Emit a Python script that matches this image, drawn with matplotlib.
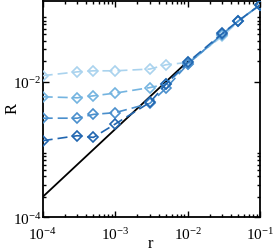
import matplotlib
matplotlib.use("Agg")
import matplotlib.pyplot as plt
from matplotlib.ticker import LogLocator, NullFormatter, FixedLocator
import numpy as np

plt.rcParams['font.family'] = ['Liberation Serif']
plt.rcParams['mathtext.fontset'] = 'custom'
plt.rcParams['mathtext.rm'] = 'Liberation Serif'
plt.rcParams['mathtext.it'] = 'Liberation Serif:italic'

r = [1e-4, 3e-4, 5e-4, 1e-3, 3e-3, 5e-3, 1e-2, 3e-2, 5e-2, 1e-1]
R1 = [0.0123, 0.0140, 0.0145, 0.0145, 0.0154, 0.0178, 0.0193, 0.0467, 0.0776, 0.137]
R2 = [0.0060, 0.0058, 0.0062, 0.0068, 0.0082, 0.0092, 0.0182, 0.0490, 0.0790, 0.137]
R3 = [0.0029, 0.0029, 0.0033, 0.0035, 0.0048, 0.0080, 0.0182, 0.0505, 0.0795, 0.137]
R4 = [0.00135, 0.0016, 0.00151, 0.00238, 0.00495, 0.0092, 0.0193, 0.0516, 0.0795, 0.137]
series = [R1, R2, R3, R4]
colors = ['#aad3ee', '#74b4e0', '#4a8fcc', '#2166b0']

ref_r = [1e-4, 1e-2]
ref_R = [2e-4, 2e-2]

W, H = 273, 251
fig = plt.figure(figsize=(W / 100, H / 100), dpi=100)
ax = fig.add_axes([0.1564, 0.1303, 0.797, 0.8629])

ax.plot(ref_r, ref_R, color='black', lw=1.3, zorder=2)
for R, c in zip(series, colors):
    ax.plot(r, R, color=c, lw=1.2, dashes=(6, 3), marker='D', ms=5.5,
            mfc='none', mec=c, mew=1.2, zorder=3)

ax.set_xscale('log')
ax.set_yscale('log')
ax.set_xlim(1e-4, 1e-1)
ax.set_ylim(1e-4, 0.157)

ax.xaxis.set_major_locator(FixedLocator([1e-4, 1e-3, 1e-2, 1e-1]))
ax.xaxis.set_minor_locator(LogLocator(base=10, subs=np.arange(2, 10)))
ax.set_xticklabels([r'10$^{-4}$', r'10$^{-3}$', r'10$^{-2}$', r'10$^{-1}$'])
ax.xaxis.set_minor_formatter(NullFormatter())

ax.yaxis.set_major_locator(FixedLocator([1e-4, 1e-2]))
ymin = [k * 1e-4 for k in range(2, 10)] + [k * 1e-2 for k in range(2, 10)]
ax.yaxis.set_minor_locator(FixedLocator(ymin))
ax.set_yticklabels([r'10$^{-4}$', r'10$^{-2}$'])
ax.yaxis.set_minor_formatter(NullFormatter())

ax.tick_params(which='both', direction='in', top=True, right=True, width=1.0, labelsize=11)
ax.tick_params(which='major', length=4.5)
ax.tick_params(which='minor', length=2.5)
ax.tick_params(axis='x', pad=6)
ax.tick_params(axis='y', pad=1)
for s in ax.spines.values():
    s.set_linewidth(1.3)

fig.text(13 / W, 1 - 109 / H, 'R', fontsize=12, ha='center', va='center', rotation=90)
fig.text(150 / W, 1 - 244 / H, 'r', fontsize=12, ha='center', va='center')

fig.savefig('out.png', dpi=100)
